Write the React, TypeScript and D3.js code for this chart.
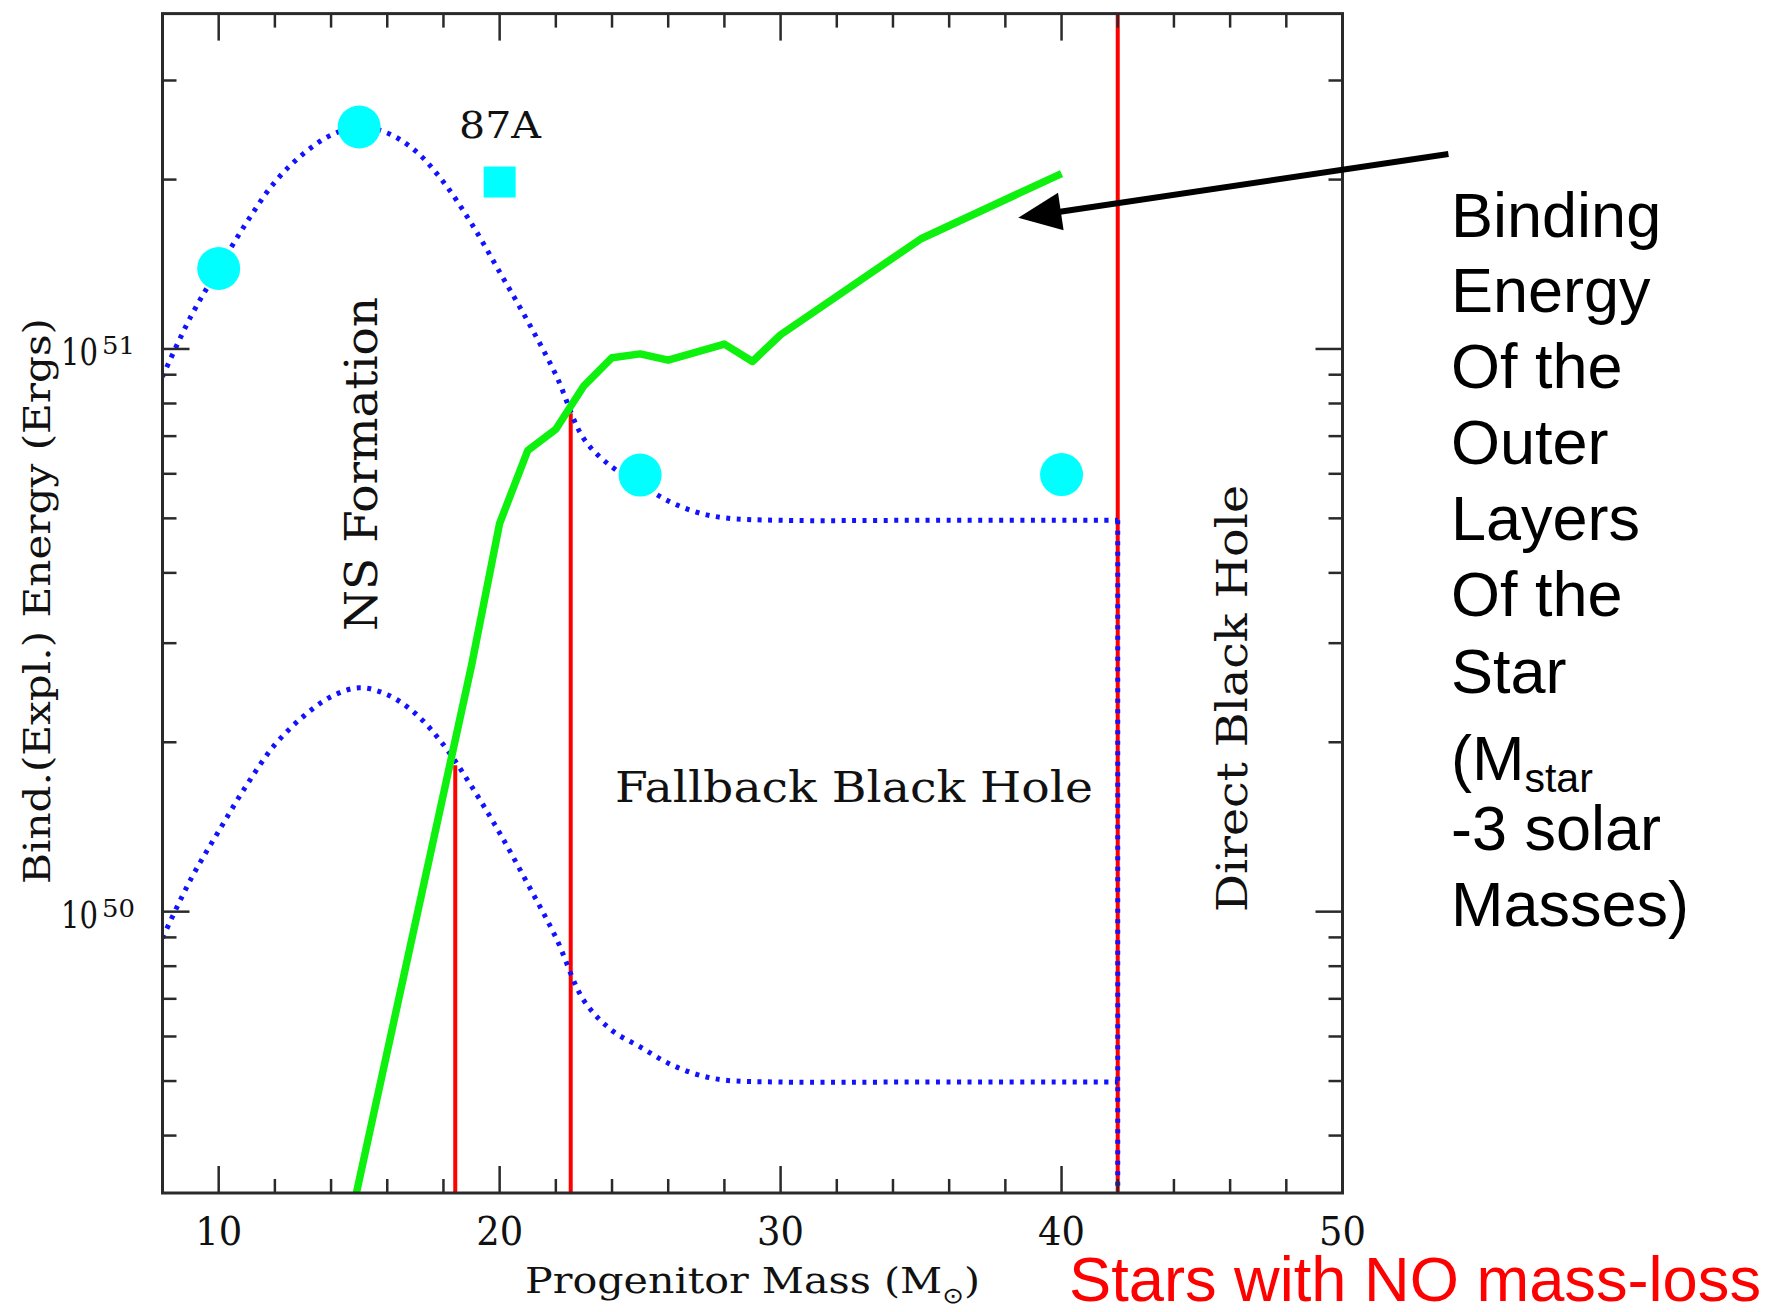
import React, { useMemo } from 'react';
import * as d3 from 'd3';

// explosion-energy model curve (dotted, upper band) - mass in Msun, energy in ergs
const upperMass = [8, 9, 10, 11, 12, 13, 14, 15, 16, 17, 18, 19, 20, 21, 22, 23, 24, 25, 26, 27, 28, 30, 35, 42];
const upperEnergy = [
  8.93e50, 1.14e51, 1.39e51, 1.68e51, 1.98e51, 2.22e51, 2.40e51, 2.48e51, 2.42e51, 2.25e51, 1.98e51, 1.67e51,
  1.37e51, 1.12e51, 9.0e50, 6.92e50, 6.17e50, 5.75e50, 5.37e50, 5.13e50, 5.01e50, 4.96e50, 4.96e50, 4.96e50,
];

// same curve, lower band
const lowerMass = [8, 9, 10, 11, 12, 13, 14, 15, 16, 17, 18, 19, 20, 21, 22, 23, 24, 25, 26, 27, 28, 30, 35, 42];
const lowerEnergy = [
  8.98e49, 1.14e50, 1.39e50, 1.68e50, 1.98e50, 2.22e50, 2.41e50, 2.50e50, 2.43e50, 2.25e50, 1.98e50, 1.67e50,
  1.38e50, 1.12e50, 9.0e49, 6.95e49, 6.15e49, 5.75e49, 5.38e49, 5.14e49, 5.02e49, 4.98e49, 4.98e49, 4.98e49,
];

// binding energy of outer layers (green)
const bindMass = [14.9, 19, 20, 21, 22, 23, 24, 25, 26, 28, 29, 30, 35, 40];
const bindEnergy = [3.16e49, 2.74e50, 4.9e50, 6.6e50, 7.2e50, 8.6e50, 9.65e50, 9.8e50, 9.55e50, 1.02e51, 9.5e50, 1.06e51, 1.57e51, 2.05e51];

// simulated models (cyan circles) and SN 1987A
const modelMass = [10, 15, 25, 40];
const modelEnergy = [1.39e51, 2.48e51, 5.97e50, 5.98e50];
const sn87aMass = 20;
const sn87aEnergy = 1.98e51;

// red boundaries: mass and upper end of the line
const boundaryMass = [18.42, 22.53, 42];
const boundaryTop = [1.82e50, 7.69e50, 3.945e51];

const xMajor = [10, 20, 30, 40, 50];
const yMajor = [1e50, 1e51];
const yMajorExp = ['50', '51'];

// arrow from the note to the green curve (data units)
const arrowFrom = [53.77, 2.22e51];
const arrowTo = [38.46, 1.71e51];

const noteLines = ['Binding', 'Energy', 'Of the', 'Outer', 'Layers', 'Of the', 'Star', '(M', '-3 solar', 'Masses)'];
const noteBaselines = [237, 312, 388, 464, 540, 616, 693, 780, 850, 926];

const SERIF = "'DejaVu Serif', serif";
const SANS = "'Liberation Sans', Arial, sans-serif";
const INK = '#111';

const App = () => {
  const x = d3.scaleLinear().domain([8, 50]).range([162.5, 1342.5]);
  const y = d3.scaleLog().domain([Math.pow(10, 49.5), Math.pow(10, 51.596)]).range([1193, 13.6]);
  const [x0, x1] = x.range();
  const [y0, y1] = y.range();

  const line = d3.line<[number, number]>().x(d => x(d[0])).y(d => y(d[1]));
  const smooth = d3.line<[number, number]>().x(d => x(d[0])).y(d => y(d[1])).curve(d3.curveCatmullRom.alpha(0.5));

  const upperPath = smooth(upperMass.map((m, i) => [m, upperEnergy[i]]));
  const lowerPath = smooth(lowerMass.map((m, i) => [m, lowerEnergy[i]]));
  const bindPath = line(bindMass.map((m, i) => [m, bindEnergy[i]]));

  const yMinor = useMemo(() => {
    const out: number[] = [];
    const [lo, hi] = y.domain();
    for (let e = 49; e <= 51; e++) {
      for (let k = 2; k <= 9; k++) {
        const v = k * Math.pow(10, e);
        if (v > lo && v < hi) out.push(v);
      }
    }
    return out;
  }, []);
  const xMinor = d3.range(12, 50, 2).filter(v => v % 10 !== 0);

  // arrow geometry
  const tx = x(arrowTo[0]), ty = y(arrowTo[1]);
  const fx = x(arrowFrom[0]), fy = y(arrowFrom[1]);
  const len = Math.hypot(fx - tx, fy - ty);
  const ux = (fx - tx) / len, uy = (fy - ty) / len;
  const headL = 43, headW = 19;
  const bx = tx + ux * headL, by = ty + uy * headL;
  const head = `${tx},${ty} ${bx - uy * headW},${by + ux * headW} ${bx + uy * headW},${by - ux * headW}`;

  const dotStyle = { fill: 'none', stroke: '#1212ff', strokeWidth: 5, strokeDasharray: '4 6.5' };
  const majorLen = 27, minorLen = 14;
  const tickStroke = { stroke: '#2a2a2a', strokeWidth: 2.5 };

  return (
    <div style={{ position: 'absolute', left: 0, top: 0 }}>
      <svg width={1776} height={1312} viewBox="0 0 1776 1312" style={{ display: 'block', background: '#fff' }}>
        <defs>
          <clipPath id="plotClip">
            <rect x={x0} y={y1} width={x1 - x0} height={y0 - y1} />
          </clipPath>
        </defs>

        {/* red boundaries */}
        {boundaryMass.map((m, i) => (
          <line key={m} x1={x(m)} x2={x(m)} y1={y(boundaryTop[i])} y2={y0} stroke="#ff0000" strokeWidth={4} />
        ))}

        {/* dotted energy curves */}
        <g clipPath="url(#plotClip)">
          <path d={upperPath} {...dotStyle} />
          <path d={lowerPath} {...dotStyle} />
          <line
            x1={x(upperMass[upperMass.length - 1])}
            x2={x(upperMass[upperMass.length - 1])}
            y1={y(upperEnergy[upperEnergy.length - 1])}
            y2={y0}
            {...dotStyle}
          />
          {/* binding energy */}
          <path d={bindPath} fill="none" stroke="#0ef00e" strokeWidth={7.5} strokeLinejoin="round" />
        </g>

        {/* models */}
        {modelMass.map((m, i) => (
          <circle key={m} cx={x(m)} cy={y(modelEnergy[i])} r={21.5} fill="#00ffff" />
        ))}
        <rect x={x(sn87aMass) - 16} y={y(sn87aEnergy) - 15.5} width={32} height={31} fill="#00ffff" />
        <text x={459} y={138} fontFamily={SERIF} fontSize={38} fill={INK} textLength={82} lengthAdjust="spacingAndGlyphs">
          87A
        </text>

        {/* frame */}
        <rect x={x0} y={y1} width={x1 - x0} height={y0 - y1} fill="none" stroke="#2a2a2a" strokeWidth={3} />

        {/* x ticks bottom and top */}
        {[...xMajor.filter(v => v < 50), ...xMinor].map(v => {
          const l = xMajor.includes(v) ? majorLen : minorLen;
          return (
            <g key={`xt${v}`}>
              <line x1={x(v)} x2={x(v)} y1={y0} y2={y0 - l} {...tickStroke} />
              <line x1={x(v)} x2={x(v)} y1={y1} y2={y1 + l} {...tickStroke} />
            </g>
          );
        })}
        {/* y ticks left and right */}
        {[...yMajor, ...yMinor].map(v => {
          const l = yMajor.includes(v) ? majorLen : minorLen;
          return (
            <g key={`yt${v}`}>
              <line x1={x0} x2={x0 + l} y1={y(v)} y2={y(v)} {...tickStroke} />
              <line x1={x1} x2={x1 - l} y1={y(v)} y2={y(v)} {...tickStroke} />
            </g>
          );
        })}

        {/* tick labels */}
        {xMajor.map(v => (
          <text key={`xl${v}`} x={x(v) - 23.5} y={1245} fontFamily={SERIF} fontSize={40} fill={INK}
            textLength={47} lengthAdjust="spacingAndGlyphs">
            {v}
          </text>
        ))}
        {yMajor.map((v, i) => (
          <g key={`yl${v}`}>
            <text x={61} y={y(v) + 16} fontFamily={SERIF} fontSize={37} fill={INK} textLength={37} lengthAdjust="spacingAndGlyphs">
              10
            </text>
            <text x={102} y={y(v) + 5} fontFamily={SERIF} fontSize={25} fill={INK} textLength={33} lengthAdjust="spacingAndGlyphs">
              {yMajorExp[i]}
            </text>
          </g>
        ))}

        {/* axis titles */}
        <text x={525} y={1293} fontFamily={SERIF} fontSize={35} fill={INK} textLength={455} lengthAdjust="spacingAndGlyphs">
          Progenitor Mass (M
          <tspan fontFamily="'DejaVu Sans', sans-serif" fontSize={22} dy={10}>⊙</tspan>
          <tspan dy={-10}>)</tspan>
        </text>
        <text transform="translate(50,884) rotate(-90)" fontFamily={SERIF} fontSize={38} fill={INK}
          textLength={566} lengthAdjust="spacingAndGlyphs">
          Bind.(Expl.) Energy (Ergs)
        </text>

        {/* region labels */}
        <text transform="translate(377,631) rotate(-90)" fontFamily={SERIF} fontSize={45} fill={INK}
          textLength={334} lengthAdjust="spacingAndGlyphs">
          NS Formation
        </text>
        <text x={615} y={802} fontFamily={SERIF} fontSize={43} fill={INK} textLength={478} lengthAdjust="spacingAndGlyphs">
          Fallback Black Hole
        </text>
        <text transform="translate(1247,912) rotate(-90)" fontFamily={SERIF} fontSize={43} fill={INK}
          textLength={427} lengthAdjust="spacingAndGlyphs">
          Direct Black Hole
        </text>

        {/* arrow */}
        <line x1={fx} y1={fy} x2={tx + ux * 32} y2={ty + uy * 32} stroke="#000" strokeWidth={6} />
        <polygon points={head} fill="#000" />

        {/* note */}
        {noteLines.map((t, i) => (
          <text key={i} x={1451} y={noteBaselines[i]} fontFamily={SANS} fontSize={63} fill="#000">
            {t}
            {t === '(M' && <tspan fontSize={41} dy={12}>star</tspan>}
          </text>
        ))}

        <text x={1069} y={1301} fontFamily={SANS} fontSize={62.5} fill="#ff0000" textLength={692} lengthAdjust="spacingAndGlyphs">
          Stars with NO mass-loss
        </text>
      </svg>
    </div>
  );
};

export default App;
